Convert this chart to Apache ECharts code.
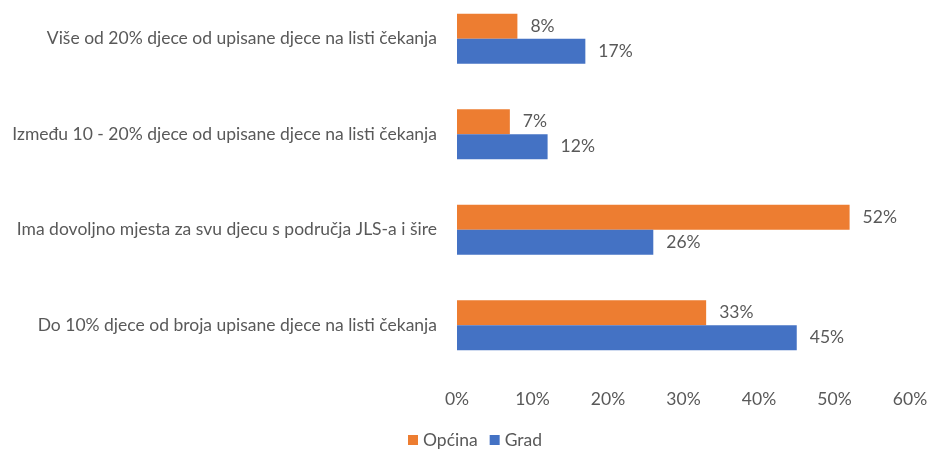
<!DOCTYPE html>
<html>
<head>
<meta charset="utf-8">
<script src="https://cdn.jsdelivr.net/npm/echarts@6/dist/echarts.min.js"></script>
<style>
  html, body { margin: 0; padding: 0; background: #fff; overflow: hidden; height: 449px; }
  /* chart box starts a bit above the page so the first category sits as in the original */
  #chart { width: 937px; height: 470px; margin-top: -9px; }
</style>
</head>
<body>
<div id="chart"></div>
<script>
const categories = [
  "Više od 20% djece od upisane djece na listi čekanja",
  "Između 10 - 20% djece od upisane djece na listi čekanja",
  "Ima dovoljno mjesta za svu djecu s područja JLS-a i šire",
  "Do 10% djece od broja upisane djece na listi čekanja"
];
const opcina = [8, 7, 52, 33];
const grad = [17, 12, 26, 45];

const myChart = echarts.init(document.getElementById("chart"));
const font = "Lato, 'Open Sans', sans-serif";
const grey = "#595959";
const fs = 17.5;

const barLabel = {
  show: true,
  position: "right",
  distance: 13,
  color: grey,
  fontFamily: font,
  fontSize: fs,
  formatter: (p) => p.value + "%"
};

const option = {
  animation: false,
  textStyle: { fontFamily: font },
  grid: { left: 457, right: 27, top: 0, bottom: 88, containLabel: false },
  legend: {
    left: 403,
    top: 435,
    itemWidth: 10,
    itemHeight: 10,
    itemGap: 12,
    icon: "rect",
    textStyle: { color: grey, fontSize: fs, fontFamily: font },
    data: ["Općina", "Grad"]
  },
  xAxis: {
    type: "value",
    min: 0,
    max: 60,
    interval: 10,
    axisLine: { show: false },
    axisTick: { show: false },
    splitLine: { show: false },
    axisLabel: {
      color: grey,
      fontSize: fs,
      fontFamily: font,
      margin: 17,
      formatter: (v) => v + "%"
    }
  },
  yAxis: {
    type: "category",
    inverse: true,
    data: categories,
    axisLine: { show: false },
    axisTick: { show: false },
    axisLabel: { color: grey, fontSize: fs, fontFamily: font, margin: 20 }
  },
  series: [
    {
      name: "Općina",
      type: "bar",
      data: opcina,
      barWidth: 25,
      barGap: "0%",
      itemStyle: { color: "#ED7D31" },
      label: barLabel
    },
    {
      name: "Grad",
      type: "bar",
      data: grad,
      barWidth: 25,
      barGap: "0%",
      itemStyle: { color: "#4472C4" },
      label: barLabel
    }
  ]
};

myChart.setOption(option);
</script>
</body>
</html>
